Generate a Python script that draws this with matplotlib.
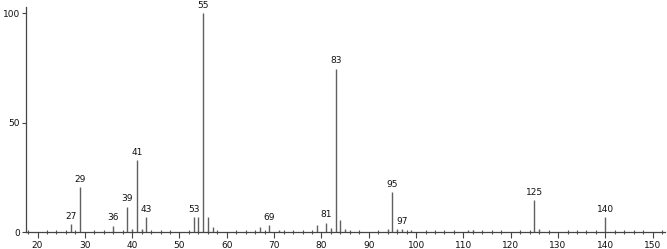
import matplotlib
matplotlib.use("Agg")
import matplotlib.pyplot as plt
from matplotlib.ticker import MultipleLocator

mz = [27, 29, 36, 39, 40, 41, 42, 43, 53, 54, 55, 56, 57, 67, 69, 71, 79, 81, 82,
      83, 84, 85, 94, 95, 96, 97, 99, 111, 112, 125, 126, 140]
intensity = [3.8, 20.5, 3.0, 11.7, 1.5, 32.9, 1.5, 6.8, 6.8, 6.8, 100, 6.8, 2.3,
             2.3, 3.3, 1.0, 3.3, 4.4, 2.0, 74.6, 5.6, 1.4, 1.4, 18.4, 1.4, 1.4,
             1.0, 1.0, 1.0, 14.7, 1.4, 6.8]
labeled_peaks = [27, 29, 36, 39, 41, 43, 53, 55, 69, 81, 83, 95, 97, 125, 140]
x_ticks = [20, 30, 40, 50, 60, 70, 80, 90, 100, 110, 120, 130, 140, 150]
y_ticks = [0, 50, 100]

fig = plt.figure(figsize=(6.67, 2.49), dpi=100)
ax = fig.add_axes([0.0385, 0.067, 0.9585, 0.905])

ax.vlines(mz, 0, intensity, colors="#606060", linewidth=1.0)
for m, v in zip(mz, intensity):
    if m in labeled_peaks:
        ax.annotate(str(m), (m, v), xytext=(0, 2.5), textcoords="offset points",
                    ha="center", va="bottom", fontsize=6.5, color="#111111")

ax.set_xlim(17.5, 152.6)
ax.set_ylim(0, 102.9)
ax.set_xticks(x_ticks)
ax.set_yticks(y_ticks)
ax.xaxis.set_minor_locator(MultipleLocator(2))
ax.tick_params(axis="x", which="major", direction="out", length=4, width=0.8,
               color="#444444", labelsize=6.5, pad=2, labelcolor="#111111")
ax.tick_params(axis="x", which="minor", direction="inout", length=3, width=0.8,
               color="#555555")
ax.tick_params(axis="y", which="major", direction="out", length=3, width=0.8,
               color="#444444", labelsize=6.5, pad=1, labelcolor="#111111")

for s in ["top", "right"]:
    ax.spines[s].set_visible(False)
for s in ["left", "bottom"]:
    ax.spines[s].set_color("#444444")
    ax.spines[s].set_linewidth(0.9)

fig.savefig("out.png", dpi=100)
